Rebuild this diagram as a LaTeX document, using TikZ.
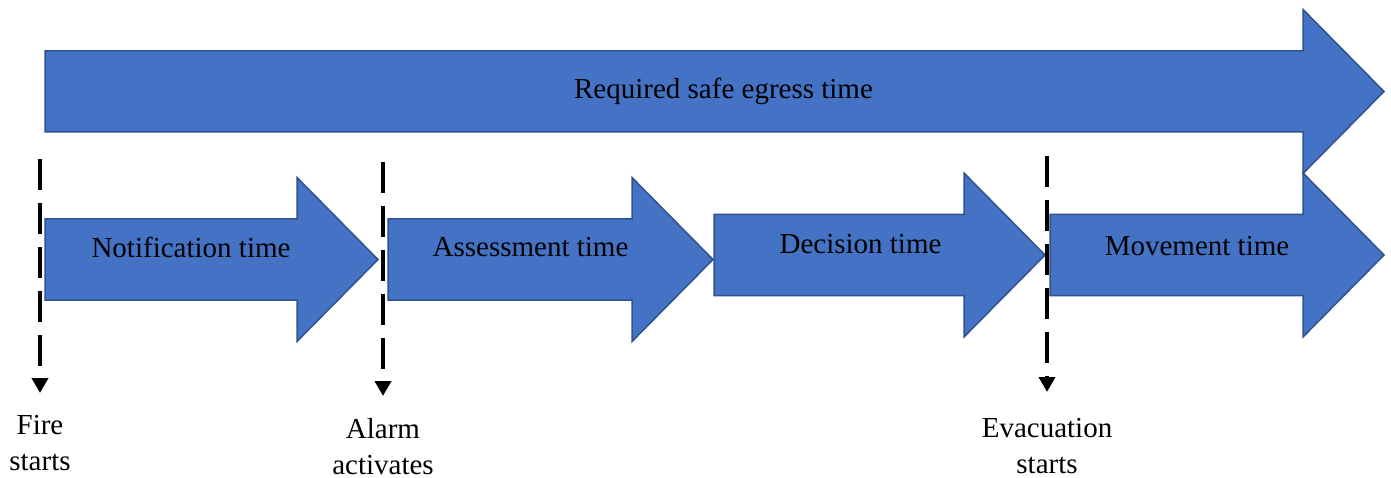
\documentclass[tikz,border=0pt]{standalone}
\usepackage{fontspec}
\setmainfont{Liberation Serif}
\usepackage{xcolor}
\usepackage{tikz}
\usetikzlibrary{arrows.meta}

\definecolor{boxblue}{HTML}{4472C4}
\definecolor{boxedge}{HTML}{2F528F}

\tikzset{
  blockarrow/.style={fill=boxblue,draw=boxedge,line width=1.5pt,line join=miter},
  phase/.style={anchor=base,font=\fontsize{29}{35.5}\selectfont},
  event/.style={anchor=base,align=center,font=\fontsize{29}{35.5}\selectfont},
  marker/.style={line width=4pt,dash pattern=on 31pt off 13pt,
    -{Triangle[width=16pt,length=15pt]}}
}

% left x, body centre y, tip x
\newcommand{\blockarrow}[3]{%
  \draw[blockarrow] (#1,#2-40.5) -- (#3-81,#2-40.5) -- (#3-81,#2-82) -- (#3,#2)
    -- (#3-81,#2+82) -- (#3-81,#2+40.5) -- (#1,#2+40.5) -- cycle;}

\begin{document}
\begin{tikzpicture}[x=1pt,y=-1pt]
      \useasboundingbox (0,0) rectangle (1391,478);
        % Arrows
      \blockarrow{45}{91.5}{1384}
      \blockarrow{45}{259.5}{378}
      \blockarrow{388}{259.5}{713}
      \blockarrow{714}{255}{1045}
      \blockarrow{1050}{255}{1384}
        % Phase labels
      \node[phase] (rset) at (723.5,99) {Required safe egress time};
      \node[phase] (notif) at (191,258) {Notification time};
      \node[phase] (assess) at (530.5,257) {Assessment time};
      \node[phase] (decide) at (860.5,254) {Decision time};
      \node[phase] (move) at (1197,255) {Movement time};
        % Events (base = last line)
      \coordinate (fireTop) at (40,159);
      \coordinate (fireEnd) at (40,393);
      \coordinate (alarmTop) at (383,162);
      \coordinate (alarmEnd) at (383,396);
      \coordinate (evacTop) at (1047,156);
      \coordinate (evacEnd) at (1047,392);
      \node[event] (fire) at (40,470) {Fire\\starts};
      \node[event] (alarm) at (383,474) {Alarm\\activates};
      \node[event] (evac) at (1047,473) {Evacuation\\starts};
      \draw[marker] (fireTop) -- (fireEnd);
      \draw[marker] (alarmTop) -- (alarmEnd);
      \draw[marker] (evacTop) -- (evacEnd);
\end{tikzpicture}
\end{document}
